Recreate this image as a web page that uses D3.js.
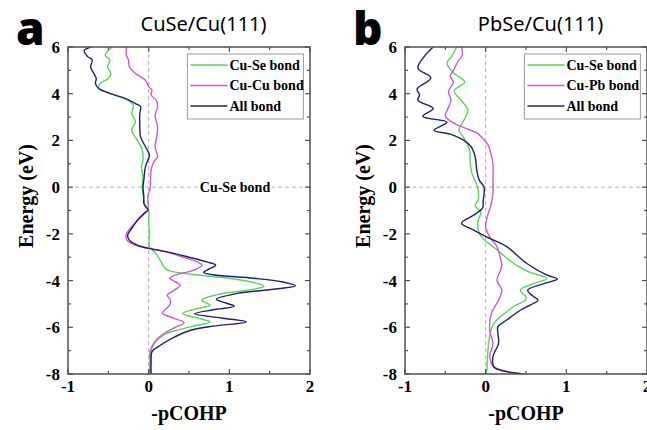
<!DOCTYPE html>
<html>
<head>
<meta charset="utf-8">
<script src="https://cdn.jsdelivr.net/npm/d3@7"></script>
<style>
  body { margin: 0; background: #fff; }
  svg { display: block; }
</style>
</head>
<body>
<div id="chart"></div>
<script>
// [energy (eV), -pCOHP]
const cuSeA = [[6.0,-0.45],[5.85,-0.50],[5.65,-0.54],[5.45,-0.48],[5.15,-0.51],[4.87,-0.47],[4.65,-0.50],[4.44,-0.60],[4.25,-0.62],[4.0,-0.47],[3.8,-0.30],[3.68,-0.24],[3.5,-0.19],[3.3,-0.2],[3.15,-0.21],[2.8,-0.165],[2.45,-0.21],[2.0,-0.14],[1.6,-0.08],[1.16,-0.07],[0.87,-0.09],[0.44,-0.07],[0,-0.08],[-0.5,-0.06],[-0.85,-0.04],[-1.0,0.0],[-1.5,0.0],[-2.0,0.01],[-2.55,0.01],[-2.8,0.08],[-3.1,0.14],[-3.5,0.21],[-3.62,0.3],[-3.74,0.55],[-3.87,0.92],[-4.02,1.22],[-4.15,1.38],[-4.25,1.43],[-4.4,1.25],[-4.6,0.85],[-4.84,0.66],[-5.05,0.76],[-5.2,0.6],[-5.41,0.42],[-5.6,0.6],[-5.77,0.76],[-5.95,0.55],[-6.1,0.38],[-6.3,0.2],[-6.5,0.12],[-6.7,0.07],[-7.0,0.03],[-7.5,0.02],[-8,0.01]];
const cuCuA = [[6.0,-0.27],[5.68,-0.28],[5.44,-0.25],[5.15,-0.24],[4.87,-0.165],[4.58,-0.04],[4.3,0.0],[4.15,0.04],[3.94,0.03],[3.72,0.095],[3.44,0.11],[3.08,0.08],[2.58,0.11],[2.15,0.10],[1.73,0.08],[1.3,0.11],[1.09,0.065],[0.73,0.03],[0,0.02],[-0.41,-0.01],[-0.98,-0.01],[-1.13,-0.05],[-1.41,-0.13],[-1.77,-0.23],[-2.05,-0.28],[-2.27,-0.27],[-2.48,-0.17],[-2.62,0.0],[-2.77,0.21],[-2.98,0.41],[-3.2,0.6],[-3.34,0.66],[-3.55,0.56],[-3.77,0.33],[-3.9,0.26],[-4.2,0.39],[-4.45,0.3],[-4.62,0.23],[-4.85,0.27],[-5.05,0.26],[-5.2,0.22],[-5.4,0.17],[-5.6,0.3],[-5.8,0.44],[-6.0,0.33],[-6.2,0.22],[-6.55,0.09],[-7.0,0.02],[-7.5,0.02],[-8,0.02]];
const allA = [[6.0,-0.71],[5.85,-0.80],[5.6,-0.76],[5.44,-0.70],[5.15,-0.72],[4.87,-0.68],[4.65,-0.65],[4.44,-0.66],[4.22,-0.62],[4.0,-0.47],[3.8,-0.29],[3.58,-0.165],[3.44,-0.10],[3.15,-0.11],[2.6,-0.11],[2.15,-0.10],[1.73,-0.04],[1.37,0.01],[1.16,-0.01],[0.87,-0.04],[0.3,-0.06],[0,-0.07],[-0.4,-0.06],[-0.7,-0.06],[-0.98,-0.01],[-1.13,-0.06],[-1.41,-0.14],[-1.77,-0.21],[-2.05,-0.26],[-2.27,-0.24],[-2.48,-0.14],[-2.62,0.0],[-2.77,0.23],[-2.98,0.48],[-3.2,0.72],[-3.34,0.83],[-3.5,0.75],[-3.65,0.68],[-3.75,0.8],[-3.9,1.3],[-4.05,1.65],[-4.22,1.82],[-4.35,1.6],[-4.55,1.1],[-4.8,0.84],[-4.95,0.95],[-5.1,1.06],[-5.25,0.8],[-5.42,0.57],[-5.6,0.9],[-5.77,1.21],[-5.95,0.8],[-6.15,0.5],[-6.45,0.3],[-6.8,0.13],[-7.05,0.04],[-7.5,0.03],[-8,0.03]];

const cuSeB = [[6.0,-0.36],[5.6,-0.42],[5.3,-0.48],[4.9,-0.40],[4.5,-0.26],[4.12,-0.39],[3.7,-0.30],[3.3,-0.22],[2.8,-0.28],[2.45,-0.33],[2.1,-0.27],[1.6,-0.20],[1.0,-0.19],[0.6,-0.17],[0,-0.10],[-0.5,-0.09],[-0.8,-0.13],[-1.06,-0.06],[-1.5,-0.1],[-2.05,-0.07],[-2.63,0.12],[-3.0,0.25],[-3.34,0.38],[-3.65,0.55],[-3.91,0.76],[-4.1,0.62],[-4.41,0.43],[-4.7,0.5],[-4.84,0.49],[-5.1,0.35],[-5.4,0.24],[-5.55,0.18],[-5.91,0.09],[-6.4,0.05],[-6.9,0.03],[-7.5,0.02],[-7.9,0.01],[-8,-0.02]];
const cuPbB = [[6.0,-0.30],[5.65,-0.29],[5.4,-0.34],[5.0,-0.40],[4.75,-0.44],[4.5,-0.40],[4.1,-0.46],[3.7,-0.43],[3.35,-0.47],[3.05,-0.50],[2.75,-0.4],[2.55,-0.27],[2.3,-0.1],[2.1,-0.04],[1.8,0.03],[1.5,0.06],[1.0,0.09],[0.3,0.09],[-0.27,0.09],[-0.84,0.06],[-1.27,0.02],[-1.7,0.0],[-2.13,0.05],[-2.55,0.14],[-3.0,0.18],[-3.34,0.20],[-3.6,0.18],[-3.98,0.14],[-4.41,0.2],[-4.84,0.16],[-5.41,0.07],[-6.12,0.05],[-6.69,0.09],[-7.26,0.05],[-7.69,0.1],[-7.85,0.2],[-8,0.47]];
const allB = [[6.0,-0.65],[5.6,-0.76],[5.1,-0.84],[4.67,-0.68],[4.2,-0.85],[3.95,-0.82],[3.72,-0.84],[3.37,-0.65],[3.03,-0.78],[2.78,-0.48],[2.44,-0.64],[2.25,-0.42],[2.0,-0.27],[1.73,-0.18],[1.3,-0.13],[0.73,-0.11],[0.3,-0.08],[0,-0.02],[-0.56,-0.03],[-0.9,-0.04],[-1.2,-0.15],[-1.55,-0.30],[-1.77,-0.19],[-2.13,0.01],[-2.55,0.26],[-3.27,0.51],[-3.77,0.76],[-3.93,0.89],[-4.1,0.75],[-4.41,0.52],[-4.65,0.58],[-4.84,0.65],[-5.05,0.55],[-5.27,0.43],[-5.69,0.26],[-5.98,0.15],[-6.19,0.15],[-6.69,0.16],[-7.0,0.12],[-7.26,0.09],[-7.69,0.1],[-7.85,0.2],[-8,0.47]];

const xTicks = [-1, 0, 1, 2];
const yTicks = [-8, -6, -4, -2, 0, 2, 4, 6];

const panels = [
    {letter: 'a', title: 'CuSe/Cu(111)', left: 68,
     series: [{name: 'Cu-Se bond', data: cuSeA, color: '#55d655'},
              {name: 'Cu-Cu bond', data: cuCuA, color: '#cf55d5'},
              {name: 'All bond', data: allA, color: '#1e1e7c'}],
     note: 'Cu-Se bond'},
    {letter: 'b', title: 'PbSe/Cu(111)', left: 405,
     series: [{name: 'Cu-Se bond', data: cuSeB, color: '#55d655'},
              {name: 'Cu-Pb bond', data: cuPbB, color: '#cf55d5'},
              {name: 'All bond', data: allB, color: '#1e1e7c'}]}
];

const W = 647, H = 430;
const plotW = 242, plotTop = 47, plotBottom = 374;
const serif = '"Liberation Serif", "Times New Roman", serif';

const svg = d3.select('#chart').append('svg')
    .attr('width', W)
    .attr('height', H);

panels.forEach((p, i) => {
    const x = d3.scaleLinear().domain([-1, 2]).range([p.left, p.left + plotW]);
    const y = d3.scaleLinear().domain([-8, 6]).range([plotBottom, plotTop]);
    const g = svg.append('g');

    // 零线
    g.append('line')
        .attr('x1', x(0)).attr('x2', x(0)).attr('y1', plotTop).attr('y2', plotBottom)
        .attr('stroke', '#b4b4b4').attr('stroke-dasharray', '4,3');
    g.append('line')
        .attr('x1', x(-1)).attr('x2', x(2)).attr('y1', y(0)).attr('y2', y(0))
        .attr('stroke', '#b4b4b4').attr('stroke-dasharray', '4,3');

    if (p.note) {
        const nx = x(1.07);
        g.append('rect')
            .attr('x', nx - 37).attr('y', y(0) - 7).attr('width', 74).attr('height', 14)
            .attr('fill', '#fff');
        g.append('text')
            .attr('x', nx).attr('y', y(0) + 5)
            .attr('text-anchor', 'middle')
            .style('font-family', serif).style('font-weight', 'bold').style('font-size', '14px')
            .text(p.note);
    }

    g.append('clipPath').attr('id', `clip${i}`)
        .append('rect')
        .attr('x', x(-1)).attr('y', plotTop).attr('width', plotW).attr('height', plotBottom - plotTop);

    const line = d3.line()
        .x(d => x(d[1]))
        .y(d => y(d[0]))
        .curve(d3.curveCatmullRom.alpha(0.5));

    g.append('g').attr('clip-path', `url(#clip${i})`)
        .selectAll('path')
        .data(p.series)
        .join('path')
        .attr('d', d => line(d.data))
        .attr('fill', 'none')
        .attr('stroke', d => d.color)
        .attr('stroke-width', 1.4);

    // 坐标框和刻度（朝内）
    g.append('rect')
        .attr('x', x(-1)).attr('y', plotTop).attr('width', plotW).attr('height', plotBottom - plotTop)
        .attr('fill', 'none').attr('stroke', '#505050').attr('stroke-width', 1.5);

    const tickG = g.append('g').attr('stroke', '#505050').attr('stroke-width', 1.2);
    d3.range(-8, 6.01, 1).forEach(v => {
        const len = v % 2 === 0 ? 5 : 3;
        tickG.append('line').attr('x1', x(-1)).attr('x2', x(-1) + len).attr('y1', y(v)).attr('y2', y(v));
        tickG.append('line').attr('x1', x(2)).attr('x2', x(2) - len).attr('y1', y(v)).attr('y2', y(v));
    });
    d3.range(-1, 2.01, 0.5).forEach(v => {
        const len = Number.isInteger(v) ? 5 : 3;
        tickG.append('line').attr('x1', x(v)).attr('x2', x(v)).attr('y1', plotBottom).attr('y2', plotBottom - len);
        tickG.append('line').attr('x1', x(v)).attr('x2', x(v)).attr('y1', plotTop).attr('y2', plotTop + len);
    });

    const labelStyle = sel => sel.style('font-family', serif).style('font-weight', 'bold').style('font-size', '17px');

    g.selectAll('.ylab').data(yTicks).join('text')
        .attr('x', x(-1) - 8).attr('y', d => y(d) + 6)
        .attr('text-anchor', 'end')
        .call(labelStyle)
        .text(d => d);

    g.selectAll('.xlab').data(xTicks).join('text')
        .attr('x', d => x(d)).attr('y', 392)
        .attr('text-anchor', 'middle')
        .call(labelStyle)
        .text(d => d);

    g.append('text')
        .attr('x', x(0.5)).attr('y', 420)
        .attr('text-anchor', 'middle')
        .style('font-family', serif).style('font-weight', 'bold').style('font-size', '20px')
        .text('-pCOHP');

    g.append('text')
        .attr('transform', `translate(${x(-1) - 35},196) rotate(-90)`)
        .attr('text-anchor', 'middle')
        .style('font-family', serif).style('font-weight', 'bold').style('font-size', '20px')
        .text('Energy (eV)');

    // 标题与面板字母
    g.append('text')
        .attr('x', x(0.68)).attr('y', 31)
        .attr('text-anchor', 'middle')
        .style('font-family', '"Noto Sans", sans-serif').style('font-size', '20px')
        .text(p.title);

    g.append('text')
        .attr('x', x(-1) - 52).attr('y', 45)
        .style('font-family', '"Noto Sans", sans-serif').style('font-weight', '900').style('font-size', '46px')
        .text(p.letter);

    // 图例
    const lx = x(0.48), ly = 54;
    const leg = g.append('g');
    leg.append('rect')
        .attr('x', lx).attr('y', ly).attr('width', 116).attr('height', 65)
        .attr('fill', '#fff').attr('stroke', '#9a9a9a').attr('stroke-width', 1);
    p.series.forEach((s, k) => {
        const ry = ly + 11 + k * 20.5;
        leg.append('line')
            .attr('x1', lx + 3).attr('x2', lx + 40).attr('y1', ry).attr('y2', ry)
            .attr('stroke', s.color).attr('stroke-width', 1.5);
        leg.append('text')
            .attr('x', lx + 42).attr('y', ry + 4.5)
            .style('font-family', serif).style('font-weight', 'bold').style('font-size', '14px')
            .text(s.name);
    });
});
</script>
</body>
</html>
